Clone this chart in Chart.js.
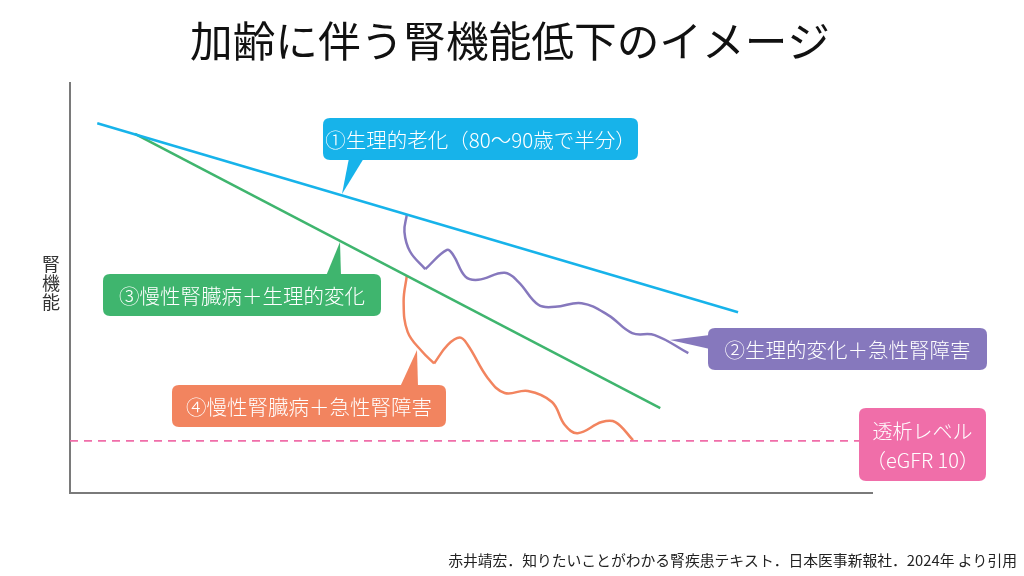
<!DOCTYPE html>
<html>
<head>
<meta charset="utf-8">
<script src="https://cdn.jsdelivr.net/npm/chart.js@4/dist/chart.umd.min.js"></script>
<style>
  body { margin: 0; background: #fff; }
</style>
</head>
<body>
<canvas id="kidneyChart" width="1024" height="576"></canvas>
<script>
// values (x = age axis 0-100, y = kidney function 0-100)
const agingX = [3.4, 83.3];
const agingY = [90.2, 44.1];

const ckdX = [8.1, 73.6];
const ckdY = [87.6, 20.7];

// ② physiological change + acute kidney injury (drop, then wavy decline)
const akiDropX = [42.0, 41.7, 42.4, 44.3];
const akiDropY = [67.9, 63.7, 58.9, 54.6];
const akiWaveX = [44.3, 47.0, 47.8, 49.3, 50.9, 54.2, 55.9, 58.4, 60.5, 63.8, 67.1, 70.1, 72.9, 77.1];
const akiWaveY = [54.6, 59.3, 58.0, 52.8, 52.0, 53.7, 51.5, 45.9, 45.4, 46.3, 43.4, 39.0, 38.5, 34.1];

// ④ CKD + acute kidney injury
const ckdAkiDropX = [42.0, 41.6, 42.1, 43.9, 45.4];
const ckdAkiDropY = [53.0, 46.7, 39.3, 34.5, 31.6];
const ckdAkiWaveX = [45.4, 47.1, 48.6, 49.6, 52.1, 54.2, 57.1, 60.1, 61.7, 63.3, 66.3, 68.0, 70.2];
const ckdAkiWaveY = [31.6, 36.1, 37.9, 36.1, 28.0, 24.4, 24.9, 22.2, 16.6, 14.6, 17.3, 17.3, 12.9];

// dialysis level (eGFR 10)
const dialysisX = [0, 98.5];
const dialysisY = [12.7, 12.7];

const BLUE = '#17b3ea';
const GREEN = '#3fb56e';
const PURPLE = '#8678bd';
const ORANGE = '#f2845f';
const PINK = '#f06ea9';

function pts(xs, ys) {
    return xs.map(function (x, i) { return { x: x, y: ys[i] }; });
}

function lineSet(xs, ys, color, extra) {
    return Object.assign({
        data: pts(xs, ys),
        showLine: true,
        borderColor: color,
        borderWidth: 2.5,
        pointRadius: 0,
        tension: 0.4,
        fill: false
    }, extra || {});
}

function roundRect(ctx, x, y, w, h, r) {
    ctx.beginPath();
    ctx.moveTo(x + r, y);
    ctx.lineTo(x + w - r, y);
    ctx.quadraticCurveTo(x + w, y, x + w, y + r);
    ctx.lineTo(x + w, y + h - r);
    ctx.quadraticCurveTo(x + w, y + h, x + w - r, y + h);
    ctx.lineTo(x + r, y + h);
    ctx.quadraticCurveTo(x, y + h, x, y + h - r);
    ctx.lineTo(x, y + r);
    ctx.quadraticCurveTo(x, y, x + r, y);
    ctx.closePath();
}

const FONT = '"Noto Sans CJK JP", "Noto Sans", sans-serif';

// callout boxes: [x, y, w, h], pointer triangle, label lines
const callouts = [
    { color: BLUE, box: [323, 118, 315, 42], tri: [[349, 158], [364, 158], [342, 194]], lines: ['①生理的老化（80〜90歳で半分）'] },
    { color: GREEN, box: [103, 274, 278, 42], tri: [[326, 276], [341, 276], [340, 242]], lines: ['③慢性腎臓病＋生理的変化'] },
    { color: ORANGE, box: [172, 385, 274, 42], tri: [[400, 387], [418, 387], [417, 350]], lines: ['④慢性腎臓病＋急性腎障害'] },
    { color: PURPLE, box: [708, 328, 279, 42], tri: [[710, 335], [710, 349], [670, 340]], lines: ['②生理的変化＋急性腎障害'] },
    { color: PINK, box: [859, 408, 127, 73], tri: null, lines: ['透析レベル', '（eGFR 10）'] }
];

const decorPlugin = {
    id: 'decor',
    afterDraw: function (chart) {
        const ctx = chart.ctx;
        ctx.save();

        // title, slightly condensed
        ctx.fillStyle = '#111';
        ctx.textAlign = 'center';
        ctx.textBaseline = 'middle';
        ctx.font = '42px ' + FONT;
        const title = '加齢に伴う腎機能低下のイメージ';
        const tw = ctx.measureText(title).width;
        ctx.save();
        ctx.translate(510, 41);
        ctx.scale(640 / tw, 1);
        ctx.fillText(title, 0, 0);
        ctx.restore();

        // y axis label, stacked vertically
        ctx.fillStyle = '#333';
        ctx.font = '18px ' + FONT;
        ['腎', '機', '能'].forEach(function (ch, i) {
            ctx.fillText(ch, 51, 264 + i * 19);
        });

        // callouts
        callouts.forEach(function (c) {
            ctx.fillStyle = c.color;
            roundRect(ctx, c.box[0], c.box[1], c.box[2], c.box[3], 7);
            ctx.fill();
            if (c.tri) {
                ctx.beginPath();
                ctx.moveTo(c.tri[0][0], c.tri[0][1]);
                ctx.lineTo(c.tri[2][0], c.tri[2][1]);
                ctx.lineTo(c.tri[1][0], c.tri[1][1]);
                ctx.closePath();
                ctx.fill();
            }
            ctx.fillStyle = '#fff';
            ctx.font = '300 ' + (c.lines.length > 1 ? '20px ' : '20.5px ') + FONT;
            const cx = c.box[0] + c.box[2] / 2;
            const lh = 29;
            const top = c.box[1] + c.box[3] / 2 - (c.lines.length - 1) * lh / 2;
            c.lines.forEach(function (t, i) {
                ctx.fillText(t, cx, top + i * lh + 1);
            });
        });

        // source note
        ctx.fillStyle = '#222';
        ctx.textAlign = 'right';
        ctx.font = '14.8px ' + FONT;
        ctx.fillText('赤井靖宏．知りたいことがわかる腎疾患テキスト．日本医事新報社．2024年 より引用', 1017, 560);

        ctx.restore();
    }
};

const hiddenAxis = {
    type: 'linear',
    min: 0,
    max: 100,
    grid: { display: false, drawTicks: false },
    ticks: { display: false },
    border: { color: '#7a7a7a', width: 2 }
};

new Chart(document.getElementById('kidneyChart'), {
    type: 'scatter',
    data: {
        datasets: [
            lineSet(dialysisX, dialysisY, PINK, { borderWidth: 1.8, borderDash: [8, 6], tension: 0 }),
            lineSet(agingX, agingY, BLUE, { tension: 0 }),
            lineSet(ckdX, ckdY, GREEN, { tension: 0 }),
            lineSet(akiDropX, akiDropY, PURPLE),
            lineSet(akiWaveX, akiWaveY, PURPLE),
            lineSet(ckdAkiDropX, ckdAkiDropY, ORANGE),
            lineSet(ckdAkiWaveX, ckdAkiWaveY, ORANGE)
        ]
    },
    options: {
        responsive: false,
        animation: false,
        layout: { padding: { left: 70, right: 152, top: 83, bottom: 83 } },
        plugins: {
            legend: { display: false },
            tooltip: { enabled: false },
            title: { display: false }
        },
        scales: {
            x: Object.assign({}, hiddenAxis),
            y: Object.assign({}, hiddenAxis)
        }
    },
    plugins: [decorPlugin]
});
</script>
</body>
</html>
